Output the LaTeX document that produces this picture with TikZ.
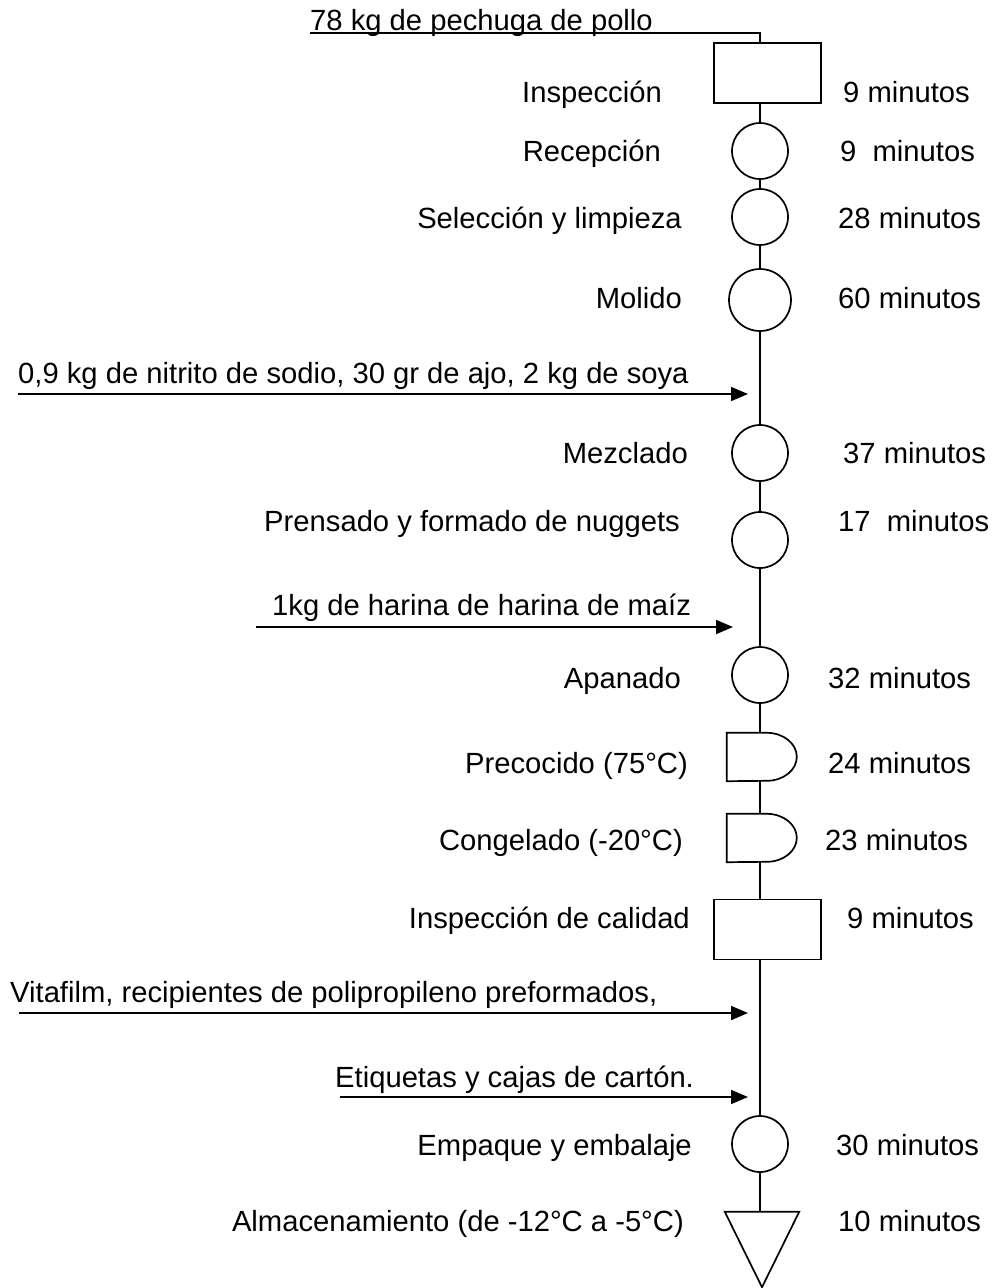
\documentclass[tikz,border=0pt]{standalone}
\usepackage{fontspec}
\setmainfont{Liberation Sans}
\usetikzlibrary{arrows.meta}

\begin{document}
\begin{tikzpicture}[x=1pt, y=-1pt,
  every node/.style={font=\fontsize{29.2}{34}\selectfont},
  insbox/.style={draw, line width=1.7pt, minimum width=107pt,
                 minimum height=60pt, inner sep=0pt},
  opcirc/.style={draw, circle, line width=1.7pt, minimum size=56pt, inner sep=0pt},
  dshape/.style={minimum width=70pt, minimum height=48pt, inner sep=0pt},
  tri/.style={minimum width=74pt, minimum height=75pt, inner sep=0pt},
  lbl/.style={anchor=base east, inner sep=0pt},
  tm/.style={anchor=base west, inner sep=0pt},
  flow/.style={line width=1.7pt},
  feed/.style={line width=1.7pt, -{Triangle[length=17pt,width=14pt]}}
]
\useasboundingbox (0,0) rectangle (998,1288);

% Process symbols
\node[insbox]                  (ins) at (767.5,73)  {};
\node[opcirc]                  (rec) at (760,151)   {};
\node[opcirc]                  (sel) at (760,217)   {};
\node[opcirc, minimum size=62pt] (mol) at (760,300) {};
\node[opcirc]                  (mez) at (760,453)   {};
\node[opcirc]                  (pre) at (760,540)   {};
\node[opcirc]                  (apa) at (760,675)   {};
\node[dshape]                  (pco) at (762,757)   {};
\node[dshape]                  (con) at (762,838)   {};
\node[insbox]                  (cal) at (767.5,929.5) {};
\node[opcirc]                  (emp) at (760,1144)  {};
\node[tri]                     (alm) at (762,1249.5) {};

% Delay and storage outlines
\foreach \d in {pco,con}
  \draw[flow] (\d.north west) -- ([xshift=40pt]\d.north west)
    arc[start angle=90, end angle=-90, x radius=30pt, y radius=24pt]
    -- (\d.south west) -- cycle;
\draw[flow] (alm.north west) -- (alm.north east) -- (alm.south) -- cycle;

% Main line
\node[tm] (raw) at (310,30) {78 kg de pechuga de pollo};
\coordinate (rawl) at (310,33);
\draw[flow] (rawl) -| (ins.north -| rec.north);
\draw[flow] (ins.south -| rec.north) -- (rec.north);
\draw[flow] (rec) -- (sel);
\draw[flow] (sel) -- (mol);
\draw[flow] (mol) -- (mez);
\draw[flow] (mez) -- (pre);
\draw[flow] (pre) -- (apa);
\draw[flow] (apa.south) -- (pco.north -| apa.south);
\draw[flow] (pco.south -| apa.south) -- (con.north -| apa.south);
\draw[flow] (con.south -| apa.south) -- (cal.north -| apa.south);
\draw[flow] (cal.south -| apa.south) -- (emp.north);
\draw[flow] (emp.south) -- (alm.north -| emp.south);

% Inputs
\node[tm] (in1) at (18,383) {0,9 kg de nitrito de sodio, 30 gr de ajo, 2 kg de soya};
\coordinate (in1s) at (18,394);  \coordinate (in1e) at (748,394);
\draw[feed] (in1s) -- (in1e);
\node[tm] (in2) at (272,615) {1kg de harina de harina de maíz};
\coordinate (in2s) at (256,627); \coordinate (in2e) at (733,627);
\draw[feed] (in2s) -- (in2e);
\node[tm] (in3) at (10,1002) {Vitafilm, recipientes de polipropileno preformados,};
\coordinate (in3s) at (19,1013); \coordinate (in3e) at (748,1013);
\draw[feed] (in3s) -- (in3e);
\node[tm] (in4) at (335,1087) {Etiquetas y cajas de cartón.};
\coordinate (in4s) at (340,1097); \coordinate (in4e) at (748,1097);
\draw[feed] (in4s) -- (in4e);

% Step names
\node[lbl] (lins) at (662,102)  {Inspección};
\node[lbl] (lrec) at (661,161)  {Recepción};
\node[lbl] (lsel) at (682,228)  {Selección y limpieza};
\node[lbl] (lmol) at (682,308)  {Molido};
\node[lbl] (lmez) at (688,463)  {Mezclado};
\node[lbl] (lpre) at (680,531)  {Prensado y formado de nuggets};
\node[lbl] (lapa) at (681,688)  {Apanado};
\node[lbl] (lpco) at (688,773)  {Precocido (75°C)};
\node[lbl] (lcon) at (683,850)  {Congelado (-20°C)};
\node[lbl] (lcal) at (690,928)  {Inspección de calidad};
\node[lbl] (lemp) at (692,1155) {Empaque y embalaje};
\node[lbl] (lalm) at (684,1231) {Almacenamiento (de -12°C a -5°C)};

% Times
\node[tm] (tins) at (843,102)  {9 minutos};
\node[tm] (trec) at (840,161)  {9\ \ minutos};
\node[tm] (tsel) at (838,228)  {28 minutos};
\node[tm] (tmol) at (838,308)  {60 minutos};
\node[tm] (tmez) at (843,463)  {37 minutos};
\node[tm] (tpre) at (838,531)  {17\ \ minutos};
\node[tm] (tapa) at (828,688)  {32 minutos};
\node[tm] (tpco) at (828,773)  {24 minutos};
\node[tm] (tcon) at (825,850)  {23 minutos};
\node[tm] (tcal) at (847,928)  {9 minutos};
\node[tm] (temp) at (836,1155) {30 minutos};
\node[tm] (talm) at (838,1231) {10 minutos};
\end{tikzpicture}
\end{document}
